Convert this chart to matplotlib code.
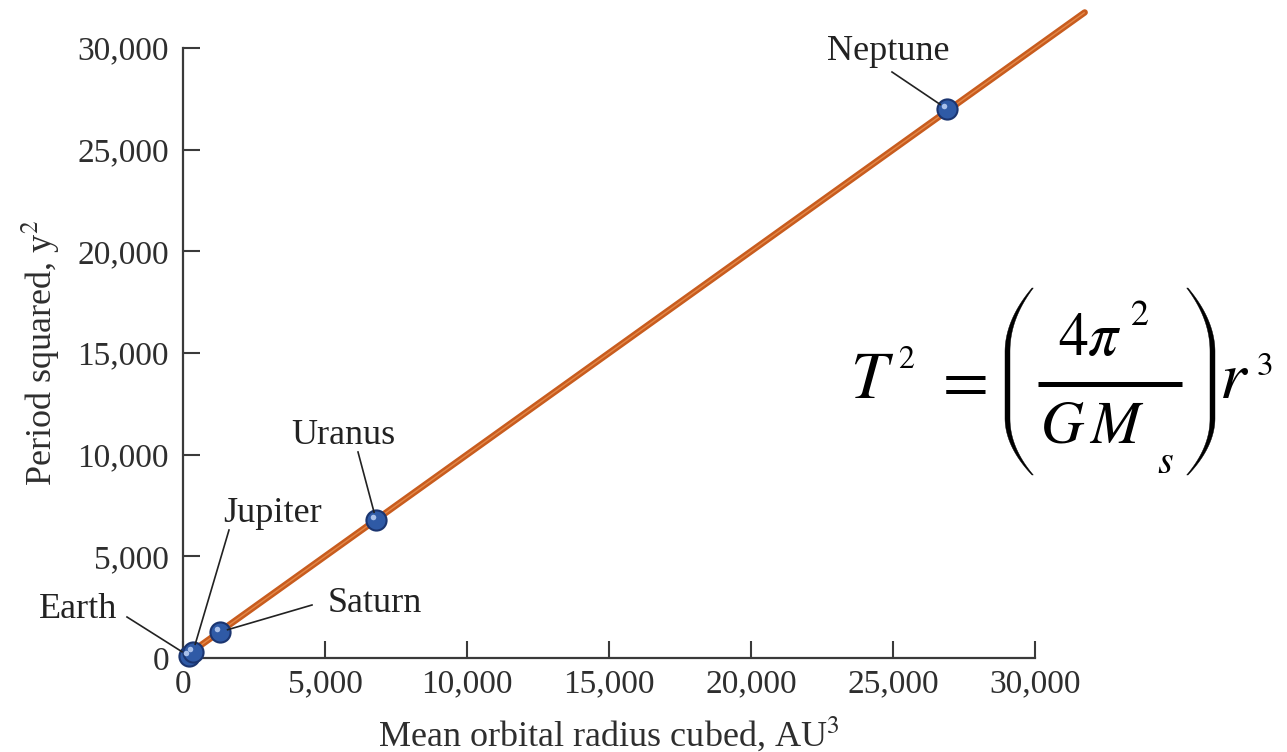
import matplotlib
matplotlib.use("Agg")
import matplotlib.pyplot as plt
import matplotlib.transforms as mtransforms
from matplotlib.patches import Polygon
import numpy as np

# ---- data ----
planets = ["Earth", "Jupiter", "Saturn", "Uranus", "Neptune"]
radius_cubed = [200, 350, 1300, 6800, 26900]      # AU^3
period_squared = [100, 300, 1280, 6790, 27000]    # y^2
fit_x = [0, 31750]
fit_y = [0, 31750]
x_ticks = [0, 5000, 10000, 15000, 20000, 25000, 30000]
y_ticks = [0, 5000, 10000, 15000, 20000, 25000, 30000]
x_label = "Mean orbital radius cubed, AU$^3$"
y_label = "Period squared, y$^2$"

plt.rcParams["font.family"] = ["Liberation Serif", "DejaVu Serif"]
plt.rcParams["mathtext.fontset"] = "stix"

W, H = 1287, 752
fig = plt.figure(figsize=(W / 100, H / 100), dpi=100)
ax = fig.add_axes([183 / W, (H - 658) / H, 852 / W, 610 / H])

axis_col = "#3a3a3a"
txt_col = "#2e2e2e"
FS = 24
ax.set_xlim(0, 30000)
ax.set_ylim(0, 30000)
for s in ["top", "right"]:
    ax.spines[s].set_visible(False)
for s in ["left", "bottom"]:
    ax.spines[s].set_linewidth(1.6)
    ax.spines[s].set_color(axis_col)

ax.set_xticks(x_ticks)
ax.set_yticks(y_ticks)
ax.set_xticklabels([f"{v:,}" for v in x_ticks])
ax.set_yticklabels([f"{v:,}" for v in y_ticks])
ax.tick_params(direction="in", length=12, width=1.5, color=axis_col,
               labelsize=FS, labelcolor=txt_col)
ax.tick_params(axis="y", pad=10)
ax.tick_params(axis="x", pad=8)

ax.set_xlabel(x_label, fontsize=26, color=txt_col, labelpad=11)
ax.set_ylabel(y_label, fontsize=26, color=txt_col, labelpad=11)

# fit line (double-stroke look)
ax.plot(fit_x, fit_y, color="#c85c1e", lw=4.6, clip_on=False, zorder=3,
        solid_capstyle="round")
ax.plot(fit_x, fit_y, color="#e48848", lw=1.0, clip_on=False, zorder=3,
        solid_capstyle="butt")

# planet markers
ax.plot(radius_cubed, period_squared, "o", ms=14.5, mfc="#2f5aa6",
        mec="#1b3570", mew=1.5, clip_on=False, zorder=5, ls="none")
hl = ax.transData + mtransforms.ScaledTranslation(-3 / 100, 3 / 100, fig.dpi_scale_trans)
ax.plot(radius_cubed, period_squared, "o", ms=4, mfc="#a9c0ea",
        mec="none", clip_on=False, zorder=6, ls="none", transform=hl)

# labels with leader lines (text positions in figure pixels)
label_pos = {
    "Earth": (78, 610, 127, 617),
    "Jupiter": (273, 513, 229, 530),
    "Saturn": (375, 604, 312, 605),
    "Uranus": (343, 435, 358, 452),
    "Neptune": (888, 52, 892, 72),
}
for name, xv, yv in zip(planets, radius_cubed, period_squared):
    tx, ty, lx, ly = label_pos[name]
    fig.text(tx / W, 1 - ty / H, name, fontsize=26, color="#222222",
             ha="center", va="center")
    px, py = ax.transData.transform((xv, yv))
    sx, sy = lx, H - ly
    d = np.hypot(px - sx, py - sy)
    f = (d - 8) / d
    ex, ey = sx + (px - sx) * f, sy + (py - sy) * f
    fig.add_artist(plt.Line2D([sx / W, ex / W], [sy / H, ey / H],
                              transform=fig.transFigure, color="#222222", lw=1.2))


# ---- equation, composed from parts (figure pixel positions) ----
def fx(x):
    return x / W


def fy(y):
    return 1 - y / H


def put(x, y, s, size, ha="left", va="baseline"):
    fig.text(fx(x), fy(y), s, fontsize=size, ha=ha, va=va, color="black")


put(850, 398, r"$T$", 48)
put(898, 368, r"$2$", 23)
put(960, 383, r"$=$", 48, ha="center", va="center")
put(1058, 355, r"$\mathit{4}\pi$", 43)
put(1130, 325, r"$2$", 26)
fig.add_artist(plt.Line2D([fx(1038), fx(1182)], [fy(384.5), fy(384.5)],
                          transform=fig.transFigure, color="black", lw=3.6,
                          solid_capstyle="butt"))
put(1040, 443, r"$G\,M$", 43)
put(1157, 473, r"$s$", 29)
put(1219, 398, r"$r$", 49)
put(1256, 375, r"$3$", 24)


def paren(x_edge, y_top, y_bot, depth, straight_top, straight_bot, direction):
    ys = np.linspace(y_top, y_bot, 160)
    u = np.zeros_like(ys)
    up = ys < straight_top
    u[up] = (straight_top - ys[up]) / (straight_top - y_top)
    dn = ys > straight_bot
    u[dn] = (ys[dn] - straight_bot) / (y_bot - straight_bot)
    off = depth * u ** 2
    w = 1.3 + 3.7 * (1 - u ** 1.6)
    sign = 1 if direction == "left" else -1
    xo = x_edge + sign * off
    xi = xo + sign * w
    pts = np.concatenate([np.column_stack([xo, ys]),
                          np.column_stack([xi, ys])[::-1]])
    pts = np.column_stack([pts[:, 0] / W, 1 - pts[:, 1] / H])
    fig.add_artist(Polygon(pts, closed=True, transform=fig.transFigure,
                           facecolor="black", edgecolor="black", lw=0.3))


paren(1005, 288, 475, 27, 352, 418, "left")
paren(1215, 288, 475, 27, 352, 418, "right")

fig.savefig("out.png", dpi=100)
